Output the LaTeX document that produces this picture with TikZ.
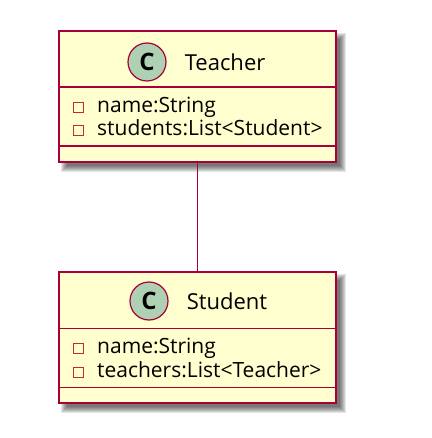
\documentclass[tikz,border=0pt]{standalone}
\usepackage{fontspec}
\setmainfont{Open Sans}
\usetikzlibrary{positioning}
\definecolor{umlfill}{HTML}{FEFECE}
\definecolor{umlborder}{HTML}{A80036}
\definecolor{umlcircle}{HTML}{ADD1B2}
\definecolor{umlpriv}{HTML}{C82930}
\pgfdeclarelayer{background}
\pgfsetlayers{background,main}

\begin{document}
\begin{tikzpicture}
    [x=1pt,y=-1pt,
     classbox/.style={rectangle,draw=umlborder,fill=umlfill,line width=1.5pt,minimum width=277pt,minimum height=131pt,inner sep=0pt},
     classicon/.style={circle,draw=umlborder,fill=umlcircle,line width=1.2pt,minimum size=38pt,inner sep=0pt,font=\fontsize{24}{24}\selectfont\bfseries},
     classname/.style={inner sep=0pt,font=\fontsize{22}{22}\selectfont},
     attr/.style={anchor=base west,inner sep=0pt,font=\fontsize{21}{21}\selectfont},
     privmark/.style={rectangle,draw=umlpriv,fill=umlfill,line width=1pt,minimum size=10pt,inner sep=0pt},
     sep/.style={draw=umlborder,line width=1.5pt}]
    \useasboundingbox (0,0) rectangle (431,438);

    \node[classbox] (teacher) at (197.5,96.5) {};
    \node[classbox] (student) at (197.5,337.5) {};

    % Teacher
    \node[classicon] (teacher-c) at (147,62) {C};
    \node[classname,right=18pt of teacher-c] (teacher-name) {Teacher};
    \node[privmark] (teacher-m1) at (78,108) {};
    \node[privmark] (teacher-m2) at (78,131) {};
    \node[attr] (teacher-a1) at (97,113) {name:String};
    \node[attr] (teacher-a2) at (97,136) {students:List<Student>};

    % Student
    \node[classicon] (student-c) at (149,301) {C};
    \node[classname,right=18pt of student-c] (student-name) {Student};
    \node[privmark] (student-m1) at (78,348) {};
    \node[privmark] (student-m2) at (78,372) {};
    \node[attr] (student-a1) at (97,353) {name:String};
    \node[attr] (student-a2) at (97,377) {teachers:List<Teacher>};

    \foreach \b in {teacher,student}
      \foreach \d in {57,116}
        \draw[sep] ([yshift=-\d pt]\b.north west) -- ([yshift=-\d pt]\b.north east);

    \draw[umlborder,line width=1.2pt] (teacher) -- (student);

    \begin{pgfonlayer}{background}
    \foreach \b in {teacher,student}
      \foreach \s in {-3,...,3}
        \fill[black,opacity=.1] ([shift={(6-\s,6-\s)}]\b.north west) rectangle ([shift={(6+\s,6+\s)}]\b.south east);
    \end{pgfonlayer}
\end{tikzpicture}
\end{document}
